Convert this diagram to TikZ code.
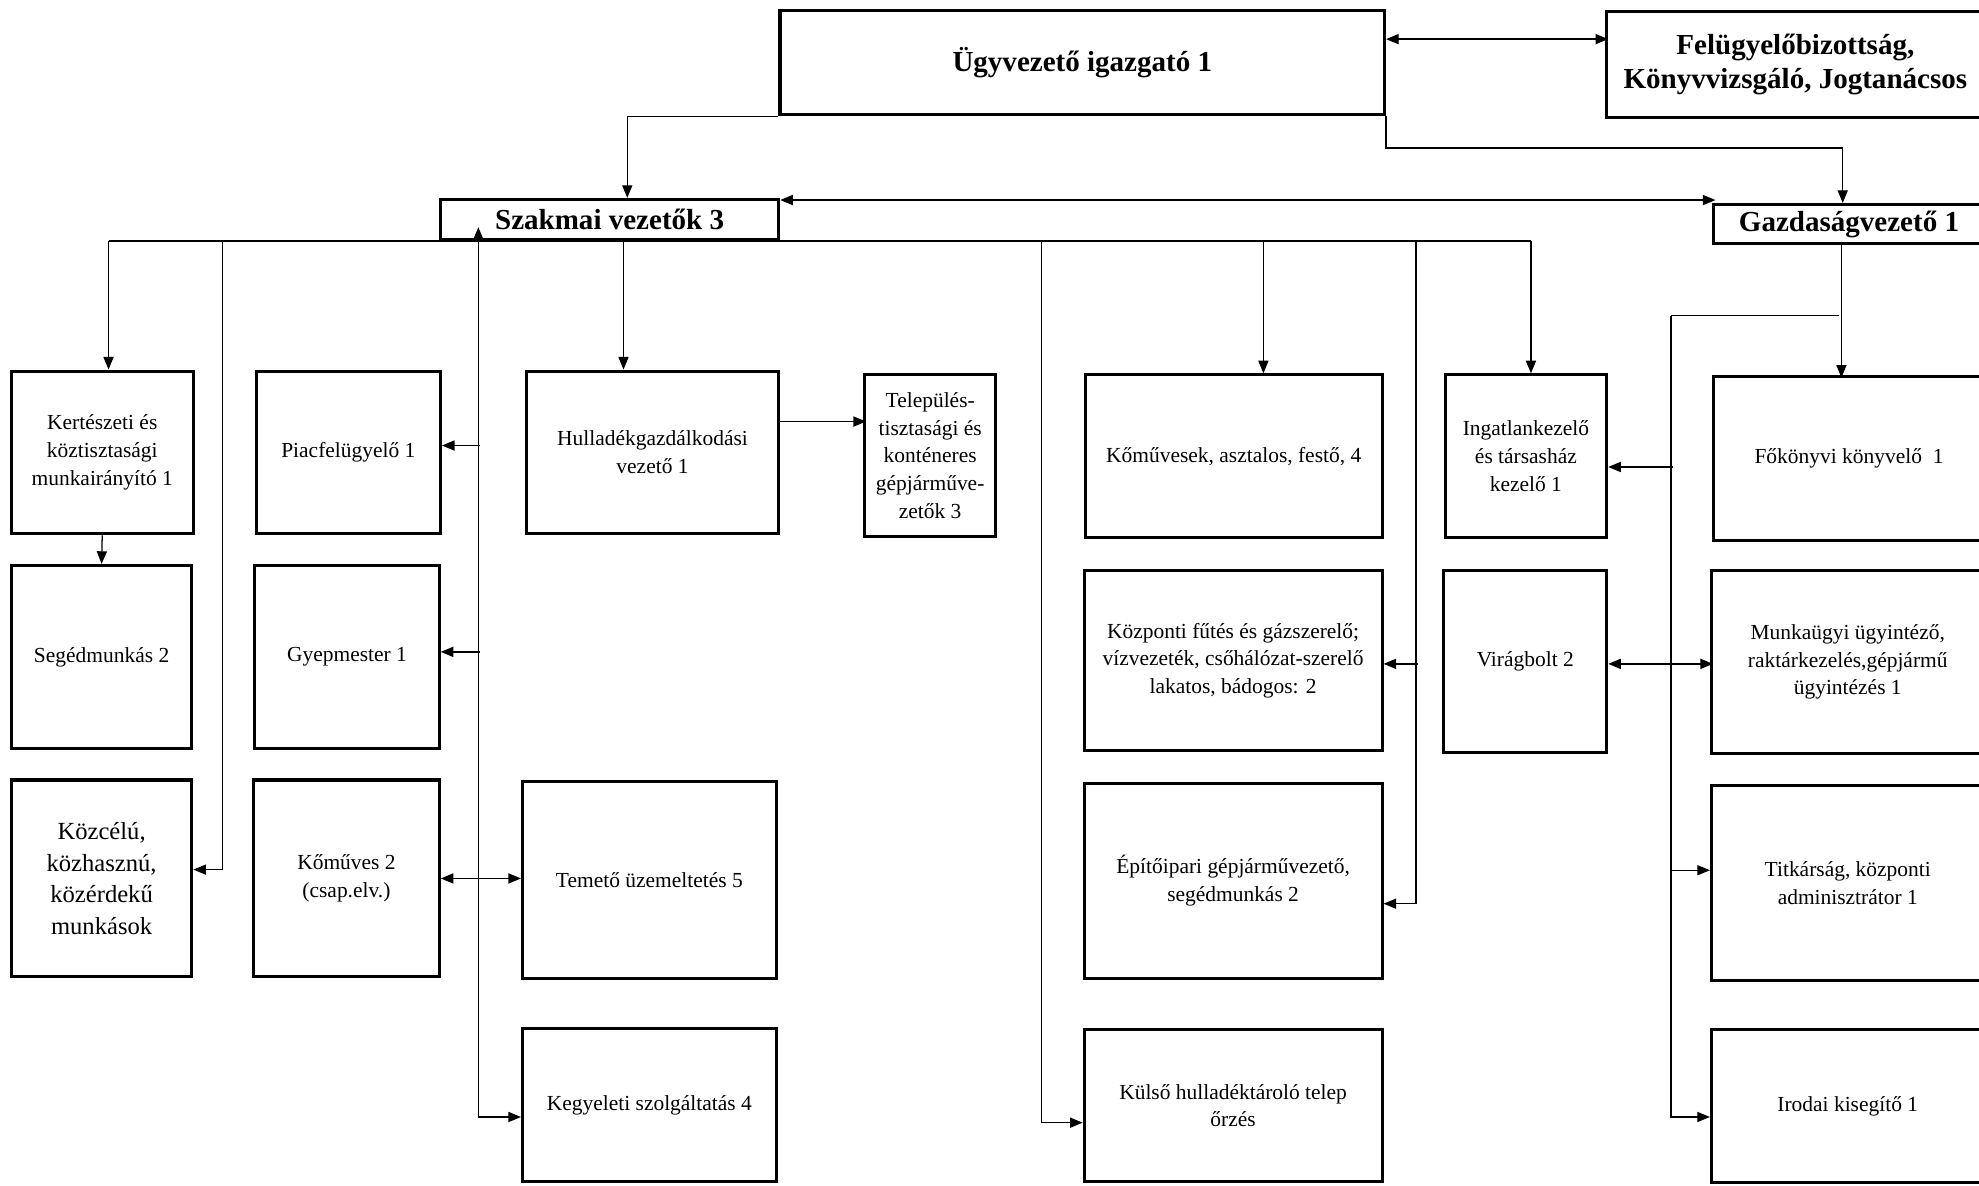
\documentclass[tikz,border=0pt]{standalone}
\usepackage{fontspec}
\setmainfont{Liberation Serif}
\usetikzlibrary{arrows.meta}

\begin{document}
\begin{tikzpicture}[
			x=1pt, y=-1pt,
			line width=1pt,
			>={Triangle[length=10pt,width=8pt]},
			unit/.style={rectangle, draw, line width=2.4pt, inner sep=2pt, align=center, font=\fontsize{17}{22}\selectfont},
			head/.style={unit, font=\fontsize{23}{27}\bfseries\selectfont}
			]
			
			\useasboundingbox (0,0) rectangle (1568,939);
			\clip (0,0) rectangle (1568,939);
			
			% Top level
			\node[head, minimum width=479pt, minimum height=83pt] (ugyv) at (857.5,49.5) {Ügyvezető igazgató 1};
			\node[head, minimum width=299pt, minimum height=84pt] (felug) at (1422.5,51) {Felügyelőbizottság,\\Könyvvizsgáló, Jogtanácsos};
			\node[head, minimum width=268pt, minimum height=32pt, inner sep=0pt] (szakm) at (483,174) {Szakmai vezetők 3};
			\node[head, minimum width=214pt, minimum height=31pt, inner sep=0pt] (gazd) at (1465,177.5) {Gazdaságvezető 1};
			
			% First row
			\node[unit, minimum width=144pt, minimum height=129pt] (kert) at (81,358.5) {Kertészeti és\\köztisztasági\\munkairányító 1};
			\node[unit, minimum width=146pt, minimum height=129pt] (piac) at (276,358.5) {Piacfelügyelő 1};
			\node[unit, minimum width=200pt, minimum height=129pt] (hull) at (517,358.5) {Hulladékgazdálkodási\\vezető 1};
			\node[unit, minimum width=104pt, minimum height=128pt] (telep) at (737,361) {Település-\\tisztasági és\\konténeres\\gépjárműve-\\zetők 3};
			\node[unit, minimum width=235pt, minimum height=129pt] (komu) at (977.5,361.5) {Kőművesek, asztalos, festő, 4};
			\node[unit, minimum width=128pt, minimum height=129pt] (ingat) at (1209,361.5) {Ingatlankezelő\\és társasház\\kezelő 1};
			\node[unit, minimum width=214pt, minimum height=130pt] (fokv) at (1465,363) {Főkönyvi könyvelő~~1};
			
			% Second row
			\node[unit, minimum width=143pt, minimum height=145pt] (seged) at (80.5,520.5) {Segédmunkás 2};
			\node[unit, minimum width=146pt, minimum height=145pt] (gyep) at (275,520.5) {Gyepmester 1};
			\node[unit, minimum width=236pt, minimum height=143pt] (kozp) at (977,523.5) {Központi fűtés és gázszerelő;\\vízvezeték, csőhálózat-szerelő\\lakatos, bádogos: 2};
			\node[unit, minimum width=129pt, minimum height=144pt] (virag) at (1208.5,524) {Virágbolt 2};
			\node[unit, minimum width=216pt, minimum height=145pt] (munka) at (1464,524.5) {Munkaügyi ügyintéző,\\raktárkezelés,gépjármű\\ügyintézés 1};
			
			% Third row
			\node[unit, minimum width=143pt, minimum height=156pt, font=\fontsize{19.5}{25}\selectfont] (kozc) at (80.5,696) {Közcélú,\\közhasznú,\\közérdekű\\munkások};
			\node[unit, minimum width=147pt, minimum height=156pt] (kom2) at (274.5,696) {Kőműves 2\\(csap.elv.)};
			\node[unit, minimum width=201pt, minimum height=156pt] (temeto) at (514.5,697) {Temető üzemeltetés 5};
			\node[unit, minimum width=236pt, minimum height=154pt] (epit) at (977,698) {Építőipari gépjárművezető,\\segédmunkás 2};
			\node[unit, minimum width=216pt, minimum height=155pt] (titk) at (1464,699.5) {Titkárság, központi\\adminisztrátor 1};
			
			% Bottom row
			\node[unit, minimum width=201pt, minimum height=121pt] (kegy) at (514.5,875.5) {Kegyeleti szolgáltatás 4};
			\node[unit, minimum width=236pt, minimum height=120pt] (kulso) at (977,876) {Külső hulladéktároló telep\\őrzés};
			\node[unit, minimum width=216pt, minimum height=121pt] (irod) at (1464,876.5) {Irodai kisegítő 1};
			
			% Links from the top
			\draw[<->] ([yshift=18.5pt]ugyv.east) -- ++(176,0);
			\draw[->] (ugyv.south west) -| ([xshift=14pt]szakm.north);
			\draw[->] (ugyv.south east) -- ++(0,25) -| ([xshift=-5pt]gazd.north);
			\draw[<->] ([yshift=15.5pt]szakm.east) -- ++(741,0);
			
			% Bus under Szakmai vezetok
			\coordinate (b0) at (86,191);
			\coordinate (b1) at (176,191);
			\coordinate (b3) at (494,191);
			\coordinate (b4) at (825,191);
			\coordinate (b5) at (1001,191);
			\coordinate (b6) at (1122,191);
			\coordinate (b7) at (1213,191);
			\coordinate (sztip) at (379,180);
			\draw (b0) -- (b7);
			
			\draw[->] (b0) -- (b0 |- kert.north);
			\draw[->] (b1) |- ([yshift=7pt]kozc.east);
			\draw[<->] ([yshift=-9.5pt]kegy.west) -| (sztip);
			\draw[->] (b3) -- (b3 |- hull.north);
			\draw[->] (b4) |- ([yshift=-13.5pt]kulso.west);
			\draw[->] (b5) -- (b5 |- komu.north);
			\draw[->] (b6) |- ([yshift=-18pt]epit.east);
			\draw[->] (b7) -- (b7 |- ingat.north);
			
			% Side branches
			\draw[<-] ([yshift=5.5pt]piac.east) -- ++(30,0);
			\draw[<-] ([yshift=4pt]gyep.east) -- ++(31,0);
			\draw[<->] (kom2.east) -- (kom2.east -| temeto.west);
			\draw[<-] ([yshift=-2.5pt]kozp.east) -- ++(27,0);
			\draw[->] ([yshift=24.5pt]hull.east) -- ++(68,0);
			\draw[->] (kert.south) -- (seged.north);
			
			% Gazdasagvezeto branches
			\coordinate (g0) at (1457,250);
			\coordinate (g1) at (1324,250);
			\draw[->] ([xshift=-6pt]gazd.south) -- ++(0,105);
			\draw (g0) -- (g1);
			\draw[->] (g1) |- ([yshift=-8.5pt]irod.west);
			\draw[<-] ([yshift=-8.5pt]ingat.east) -- ++(51,0);
			\draw[<->] ([yshift=-2pt]virag.east) -- ++(83,0);
			\draw[<-] ([yshift=10pt]titk.west) -- ++(-32,0);
			
		\end{tikzpicture}
\end{document}
